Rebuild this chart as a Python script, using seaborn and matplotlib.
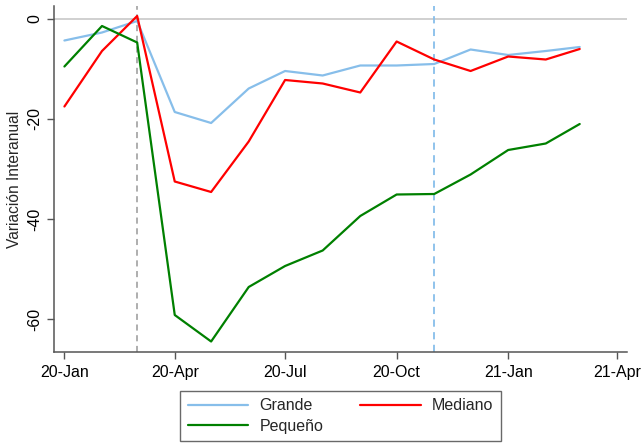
import pandas as pd
import seaborn as sns
import matplotlib.pyplot as plt
import numpy as np

sns.set_theme(style="white")
plt.rcParams['font.family'] = ['Liberation Sans', 'DejaVu Sans']

# %% data (monthly, Jan 2020 - Mar 2021)
months = pd.date_range("2020-01-01", "2021-03-01", freq="MS")
grande = [-4.3, -2.7, -0.4, -18.6, -20.8, -13.9, -10.4, -11.3, -9.3, -9.3,
          -9.0, -6.1, -7.2, -6.4, -5.6]
mediano = [-17.5, -6.4, 0.6, -32.5, -34.6, -24.5, -12.2, -12.9, -14.7, -4.5,
           -8.1, -10.4, -7.5, -8.1, -6.0]
pequeno = [-9.5, -1.4, -4.7, -59.2, -64.5, -53.6, -49.4, -46.3, -39.4, -35.1,
           -35.0, -31.1, -26.2, -24.9, -21.0]
series_names = ["Grande", "Mediano", "Pequeño"]
tick_dates = pd.to_datetime(["2020-01-01", "2020-04-01", "2020-07-01",
                             "2020-10-01", "2021-01-01", "2021-04-01"])
tick_labels = ["20-Jan", "20-Apr", "20-Jul", "20-Oct", "21-Jan", "21-Apr"]
vline_gray = pd.to_datetime("2020-03-01")
vline_blue = pd.to_datetime("2020-11-01")

df = pd.DataFrame({
    "fecha": np.tile(months, 3),
    "valor": grande + mediano + pequeno,
    "tamano": np.repeat(series_names, len(months)),
})
colors = {"Grande": "#87BEEA", "Mediano": "#FF0000", "Pequeño": "#008000"}

# %% plot
fig = plt.figure(figsize=(6.42, 4.44), dpi=100)
ax = fig.add_axes([53.5 / 642, 1 - 352 / 444, 573.5 / 642, 346 / 444])

ax.axhline(0, color="#c8c8c8", lw=1.2, zorder=0)
ax.axvline(vline_gray, color="#999999", ls=(0, (4, 3)), lw=1.1, zorder=0)
ax.axvline(vline_blue, color="#87BEEA", ls=(0, (4, 3)), lw=1.3, zorder=0)

sns.lineplot(data=df, x="fecha", y="valor", hue="tamano", palette=colors,
             hue_order=series_names, lw=1.6, ax=ax, legend=False)

ax.set_xlim(pd.to_datetime("2019-12-23"), pd.to_datetime("2021-04-09"))
ax.set_ylim(-66.6, 2.6)
ax.set_xticks(tick_dates)
ax.set_xticklabels(tick_labels)
ax.set_yticks([0, -20, -40, -60])
ax.set_yticklabels(["0", "-20", "-40", "-60"], rotation=90, va="center")
ax.tick_params(axis="both", direction="out", length=5, width=1, color="#555555",
               labelsize=11.5, labelcolor="black", left=True, bottom=True, pad=4)
ax.tick_params(axis="y", pad=3)
ax.set(xlabel="")
ax.set_ylabel("Variación Interanual", fontsize=11.2, labelpad=4)

sns.despine(ax=ax)
for side in ["left", "bottom"]:
    ax.spines[side].set_color("#555555")
    ax.spines[side].set_linewidth(1.1)

# column-wise fill: Grande / Pequeño in col 1, Mediano in col 2
leg_order = ["Grande", "Pequeño", "Mediano"]
handles = [plt.Line2D([], [], color=colors[n], lw=1.6) for n in leg_order]
fig.legend(handles, leg_order, ncol=2, loc="center",
           bbox_to_anchor=(340.5 / 642, 1 - 416 / 444), frameon=True,
           fancybox=False, edgecolor="#444444", fontsize=11.5,
           handlelength=3.8, handletextpad=0.7, columnspacing=2.3,
           borderpad=0.45, labelspacing=0.35)

fig.savefig("out.png", dpi=100)
